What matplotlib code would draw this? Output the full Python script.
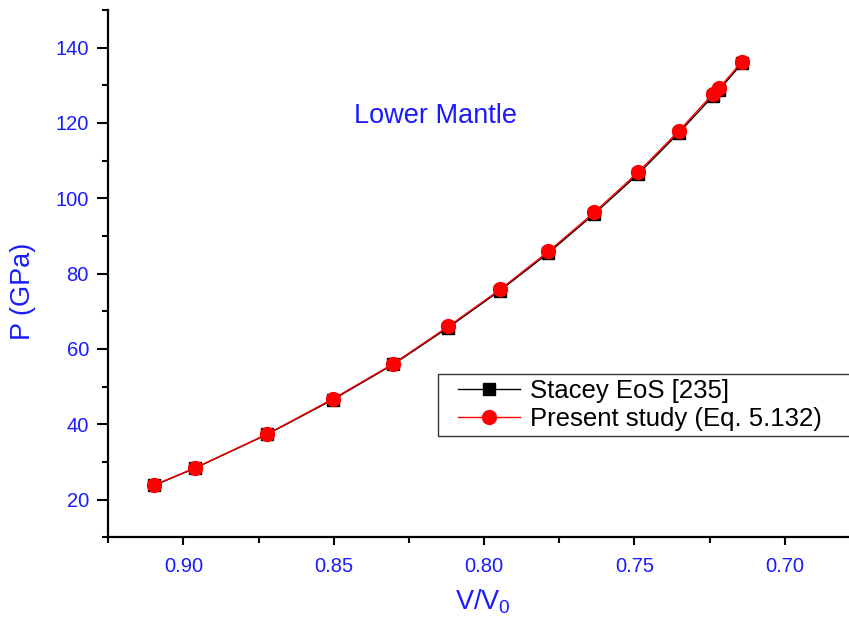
import matplotlib.pyplot as plt
from matplotlib.ticker import MultipleLocator
from matplotlib.legend_handler import HandlerLine2D

plt.rcParams['font.family'] = ['Liberation Sans', 'DejaVu Sans']

# compression V/V0 along the lower mantle
v_ratio = [0.9097, 0.8963, 0.8722, 0.8504, 0.8302, 0.8119, 0.7947,
           0.7786, 0.7633, 0.7488, 0.7352, 0.7239, 0.7219, 0.7142]

# pressure (GPa)
p_stacey = [23.8, 28.3, 37.3, 46.5, 55.9, 65.7, 75.5,
            85.5, 95.9, 106.4, 117.4, 127.1, 128.7, 135.8]
p_present = [23.9, 28.4, 37.4, 46.7, 56.1, 66.0, 75.8,
             85.9, 96.3, 106.9, 117.9, 127.7, 129.2, 136.3]

blue = '#1a1aff'

fig = plt.figure(figsize=(8.49, 6.25), dpi=100)
ax = fig.add_axes([0.1276, 0.1403, 0.8724, 0.8437])

ax.plot(v_ratio, p_stacey, color='black', lw=1.0, marker='s', ms=8.5,
        label='Stacey EoS [235]')
ax.plot(v_ratio, p_present, color='red', lw=1.0, marker='o', ms=10,
        label='Present study (Eq. 5.132)')

ax.set_xlim(0.925, 0.6786)
ax.set_ylim(10, 150)

ax.xaxis.set_minor_locator(MultipleLocator(0.025))
ax.yaxis.set_minor_locator(MultipleLocator(10))
ax.set_xticks([0.90, 0.85, 0.80, 0.75, 0.70])
ax.set_xticklabels(['0.90', '0.85', '0.80', '0.75', '0.70'])
ax.set_yticks([20, 40, 60, 80, 100, 120, 140])

for s in ('top', 'right'):
    ax.spines[s].set_visible(False)
for s in ('left', 'bottom'):
    ax.spines[s].set_linewidth(1.6)

ax.tick_params(axis='y', which='major', length=8, width=1.5, labelsize=14.5,
               labelcolor=blue, pad=6)
ax.tick_params(axis='y', which='minor', length=4, width=1.5)
ax.tick_params(axis='x', which='major', length=6, width=1.5, labelsize=14.5,
               labelcolor=blue, pad=8)
ax.tick_params(axis='x', which='minor', length=4, width=1.5)

ax.set_ylabel('P (GPa)', color=blue, fontsize=19.5)
ax.yaxis.set_label_coords(-0.097, 0.467)
ax.set_xlabel(r'V/V$\mathregular{_0}$', color=blue, fontsize=19.5)
ax.xaxis.set_label_coords(0.506, -0.095)

ax.text(0.816, 120, 'Lower Mantle', color=blue, fontsize=19.5,
        ha='center', va='baseline')

# legend box runs off the right edge of the figure
leg_top = 1 - 374 / 625
leg = ax.legend(loc='upper left',
                bbox_to_anchor=(438 / 849, leg_top - 0.1, 420 / 849, 0.1),
                bbox_transform=fig.transFigure, mode='expand',
                fontsize=18.5, frameon=True,
                fancybox=False, borderpad=0.2, borderaxespad=0,
                handlelength=3.0, handletextpad=0.4, labelspacing=0.15,
                handler_map={plt.Line2D: HandlerLine2D(xpad=0.58)})
leg.get_frame().set_edgecolor('black')
leg.get_frame().set_linewidth(1.0)

fig.savefig('out.png', dpi=100)
